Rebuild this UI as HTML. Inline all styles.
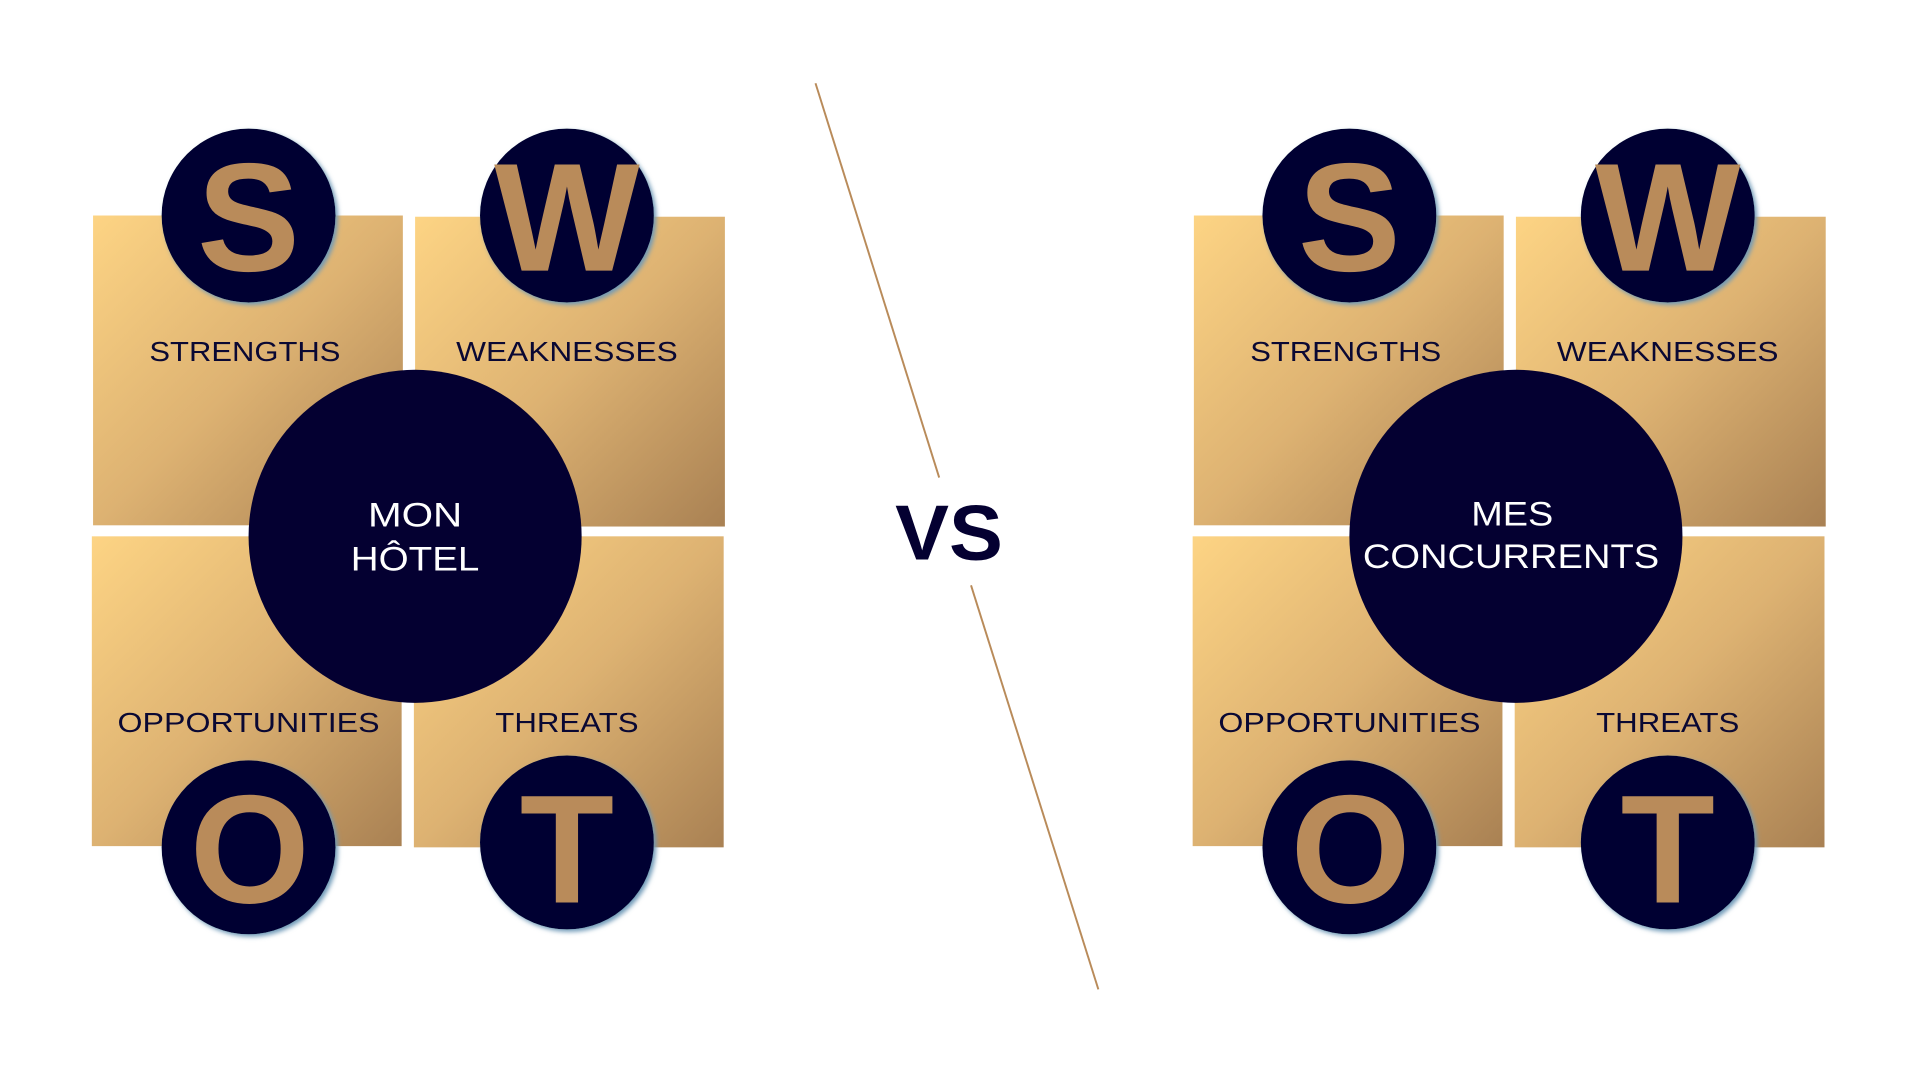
<!DOCTYPE html>
<html><head><meta charset="utf-8"><style>
html,body{margin:0;padding:0;background:#fff;}
svg{display:block;}
text{font-family:"Liberation Sans",sans-serif;}
</style></head><body>
<svg width="1920" height="1080" viewBox="0 0 1568 882" xmlns="http://www.w3.org/2000/svg">
<defs>
<linearGradient id="g" x1="0" y1="0" x2="1" y2="1">
<stop offset="0" stop-color="#fdd484"/><stop offset="0.5" stop-color="#ddb272"/><stop offset="1" stop-color="#a98153"/>
</linearGradient>
<filter id="sh" x="-20%" y="-20%" width="140%" height="140%">
<feGaussianBlur in="SourceAlpha" stdDeviation="2"/><feOffset dx="2" dy="2"/>
<feComponentTransfer><feFuncA type="linear" slope="0.6"/></feComponentTransfer>
<feFlood flood-color="#6f9ab8"/><feComposite operator="in" in2="SourceAlpha"/>
<feGaussianBlur stdDeviation="2"/><feOffset dx="2" dy="2" result="s"/>
<feMerge><feMergeNode in="s"/><feMergeNode in="SourceGraphic"/></feMerge>
</filter>
<g id="swot">
<rect x="76" y="176" width="253" height="253" fill="url(#g)"/>
<rect x="339" y="177" width="253" height="253" fill="url(#g)"/>
<rect x="75" y="438" width="253" height="253" fill="url(#g)"/>
<rect x="338" y="438" width="253" height="254" fill="url(#g)"/>
<g fill="#040031" filter="url(#sh)">
<circle cx="203" cy="176" r="71"/>
<circle cx="463" cy="176" r="71"/>
<circle cx="203" cy="692" r="71"/>
<circle cx="463" cy="688" r="71"/>
</g>
<circle cx="339" cy="438" r="136" fill="#040031"/>
<g fill="#b98b5a" font-weight="bold" font-size="126" text-anchor="middle">
<text x="203" y="221">S</text>
<text x="463" y="221">W</text>
<text x="204" y="737">O</text>
<text x="463" y="737">T</text>
</g>
<g fill="#0a0833" font-size="23" text-anchor="middle">
<text x="200" y="295" textLength="156" lengthAdjust="spacingAndGlyphs">STRENGTHS</text>
<text x="463" y="295" textLength="181" lengthAdjust="spacingAndGlyphs">WEAKNESSES</text>
<text x="203" y="598" textLength="214" lengthAdjust="spacingAndGlyphs">OPPORTUNITIES</text>
<text x="463" y="598" textLength="117" lengthAdjust="spacingAndGlyphs">THREATS</text>
</g>
</g>
</defs>
<use href="#swot"/>
<use href="#swot" x="899"/>
<g fill="#fff" font-size="28" text-anchor="middle">
<text x="339" y="430" textLength="77" lengthAdjust="spacingAndGlyphs">MON</text>
<text x="339" y="466" textLength="105" lengthAdjust="spacingAndGlyphs">HÔTEL</text>
<text x="1235" y="429" textLength="67" lengthAdjust="spacingAndGlyphs">MES</text>
<text x="1234" y="464" textLength="242" lengthAdjust="spacingAndGlyphs">CONCURRENTS</text>
</g>
<line x1="666" y1="68" x2="767" y2="390" stroke="#b98b5a" stroke-width="1.6"/>
<line x1="793" y1="478" x2="897" y2="808" stroke="#b98b5a" stroke-width="1.6"/>
<text x="775" y="457" fill="#040031" font-size="64" font-weight="bold" text-anchor="middle" textLength="88" lengthAdjust="spacingAndGlyphs">VS</text>
</svg>
</body></html>
